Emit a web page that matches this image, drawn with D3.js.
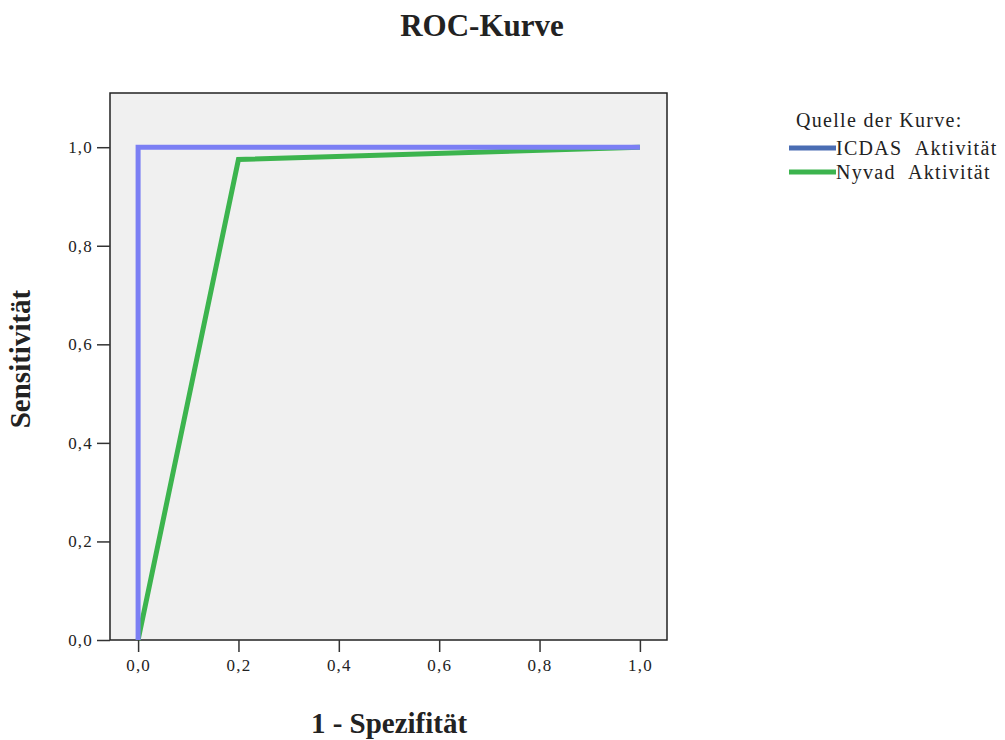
<!DOCTYPE html>
<meta charset="utf-8">
<style>
    body { margin: 0; background: #fff; }
    text { font-family: "Liberation Serif", "DejaVu Serif", serif; fill: #222; }
    .title { font-size: 31px; font-weight: bold; }
    .axis-title { font-size: 29px; font-weight: bold; }
    .tick text { font-size: 17px; letter-spacing: 1.2px; }
    .legend text { font-size: 20px; letter-spacing: 1.3px; }
</style>
<svg width="1005" height="740"></svg>
<script src="https://d3js.org/d3.v7.min.js"></script>
<script>

    // ROC data
    var icdasFpr = [0, 0, 1];
    var icdasTpr = [0, 1, 1];
    var nyvadFpr = [0, 0.2, 1];
    var nyvadTpr = [0, 0.975, 1];
    var tickValues = [0, 0.2, 0.4, 0.6, 0.8, 1.0];
    var seriesNames = ["ICDAS Aktivität", "Nyvad Aktivität"];

    var svg = d3.select("svg");
    var fmt = function(d) { return d3.format(".1f")(d).replace(".", ","); };

    // plot frame 110..667 x 93..640
    var x = d3.scaleLinear().domain([-0.056, 1.054]).range([110, 667]);
    var y = d3.scaleLinear().domain([0, 1.11]).range([640, 93]);

    svg.append("rect")
        .attr("x", x(-0.056)).attr("y", y(1.11))
        .attr("width", x(1.054) - x(-0.056))
        .attr("height", y(0) - y(1.11))
        .attr("fill", "#f0f0f0")
        .attr("stroke", "#222")
        .attr("stroke-width", 1.5);

    var xAxis = svg.append("g")
        .attr("transform", "translate(0,640)")
        .call(d3.axisBottom(x).tickValues(tickValues).tickFormat(fmt).tickSize(12).tickPadding(7));
    var yAxis = svg.append("g")
        .attr("transform", "translate(110,0)")
        .call(d3.axisLeft(y).tickValues(tickValues).tickFormat(fmt).tickSize(13).tickPadding(4));
    [xAxis, yAxis].forEach(function(g) {
        g.select(".domain").remove();
        g.selectAll(".tick line").attr("stroke", "#333").attr("stroke-width", 1.5);
        g.selectAll(".tick text").attr("fill", "#222");
    });

    var line = d3.line()
        .x(function(d) { return x(d[0]); })
        .y(function(d) { return y(d[1]); });

    var series = [
        { name: seriesNames[1], pts: d3.zip(nyvadFpr, nyvadTpr), color: "#3cb44e", legend: "#3cb44e" },
        { name: seriesNames[0], pts: d3.zip(icdasFpr, icdasTpr), color: "#7b7ff4", legend: "#4a6db3" }
    ];

    svg.append("g").selectAll("path")
        .data(series)
        .enter().append("path")
        .attr("d", function(d) { return line(d.pts); })
        .attr("fill", "none")
        .attr("stroke", function(d) { return d.color; })
        .attr("stroke-width", 5)
        .attr("stroke-linejoin", "miter");

    // titles
    svg.append("text").attr("class", "title")
        .attr("x", 482).attr("y", 36).attr("text-anchor", "middle")
        .text("ROC-Kurve");
    svg.append("text").attr("class", "axis-title")
        .attr("x", 389).attr("y", 733).attr("text-anchor", "middle")
        .text("1 - Spezifität");
    svg.append("text").attr("class", "axis-title")
        .attr("transform", "translate(30,359) rotate(-90)")
        .attr("text-anchor", "middle")
        .text("Sensitivität");

    // legend
    var legend = svg.append("g").attr("class", "legend");
    legend.append("text").attr("x", 796).attr("y", 127).text("Quelle der Kurve:");
    var items = legend.selectAll(".item")
        .data([series[1], series[0]])
        .enter().append("g")
        .attr("transform", function(d, i) { return "translate(789," + (148 + i * 24) + ")"; });
    items.append("line")
        .attr("x1", 0).attr("x2", 47)
        .attr("stroke", function(d) { return d.legend; })
        .attr("stroke-width", 5);
    items.append("text")
        .attr("x", 47).attr("y", 7)
        .attr("word-spacing", "7px")
        .text(function(d) { return d.name; });

</script>
